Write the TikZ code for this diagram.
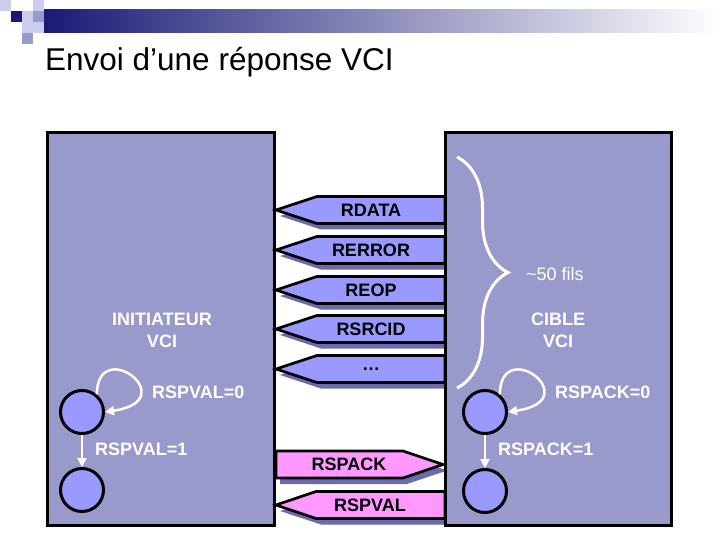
\documentclass[tikz,border=0pt]{standalone}
\usepackage{fontspec}
\setmainfont{Liberation Sans}
\usetikzlibrary{arrows.meta,decorations.pathreplacing,positioning}
\definecolor{boxgray}{HTML}{9999CC}
\definecolor{sigblue}{HTML}{9999FF}
\definecolor{sigpink}{HTML}{FF99FF}
\definecolor{sigshade}{HTML}{6A6AAC}
\definecolor{navy}{HTML}{1A1A76}
\definecolor{lightlav}{HTML}{CCCCEE}
\definecolor{midlav}{HTML}{9999CC}

\begin{document}
\begin{tikzpicture}[
    x=1pt, y=-1pt,
    unit/.style={draw=black, line width=3pt, fill=boxgray},
    sigbox/.style={draw=black, line width=2.7pt, fill=sigblue},
    sigshadow/.style={fill=sigshade, shift={(4,6)}},
    siglabel/.style={font=\fontsize{18}{21}\selectfont\bfseries, inner sep=0},
    state/.style={circle, draw=black, line width=3pt, fill=sigblue, minimum size=43pt, inner sep=0},
    trans/.style={white, line width=2.5pt, -{Triangle[length=9pt,width=9pt]}},
    whitelabel/.style={white, font=\fontsize{18}{22}\selectfont\bfseries, inner sep=0, align=center}
]
    \useasboundingbox (0,0) rectangle (720,540);

    % Header bar and squares
    \shade[left color=navy, right color=white] (43,10) rectangle (720,33);
    \fill[lightlav] (0,0) rectangle (11,11);
    \fill[navy] (11,11) rectangle (22,22);
    \fill[lightlav] (22,11) rectangle (33,22);
    \fill[lightlav] (33,0) rectangle (44,11);
    \fill[midlav] (33,11) rectangle (44,22);
    \fill[lightlav] (22,22) rectangle (44,33);
    \fill[midlav] (22,33) rectangle (33,44);

    % Title
    \node[anchor=base west, inner sep=0, font=\fontsize{31.5}{36}\selectfont] (title) at (45,71) {Envoi d’une réponse VCI};

    % Shadows of the wires
    \foreach \yy in {210,250,290,329,369,505} {
        \fill[sigshadow] (445,\yy-13.5) -- (317,\yy-13.5) -- (276,\yy) -- (317,\yy+13.5) -- (445,\yy+13.5) -- cycle;
    }
    \fill[sigshadow] (276,451) -- (403,451) -- (443,464.5) -- (403,478) -- (276,478) -- cycle;

    % Initiator and target
    \draw[unit] (47,133) rectangle (274,525);
    \draw[unit] (445,133) rectangle (671,525);

    % Response wires (target to initiator)
    \foreach \lab/\yy/\nm in {RDATA/210/rdata, RERROR/250/rerror, REOP/290/reop, RSRCID/329/rsrcid, {\dots}/369/more} {
        \draw[sigbox] (445,\yy-13.5) -- (317,\yy-13.5) -- (276,\yy) -- (317,\yy+13.5) -- (445,\yy+13.5) -- cycle;
        \node[siglabel] (\nm) at (371,\yy) {\lab};
    }

    % Handshake wires
    \draw[sigbox, fill=sigpink] (276,451) -- (403,451) -- (443,464.5) -- (403,478) -- (276,478) -- cycle;
    \node[siglabel] (rspack) at (349,464.5) {RSPACK};
    \draw[sigbox, fill=sigpink] (445,491.5) -- (316,491.5) -- (276,505) -- (316,518.5) -- (445,518.5) -- cycle;
    \node[siglabel] (rspval) at (370,505) {RSPVAL};

    % Brace over the wires
    \draw[white, line width=3pt, decorate, decoration={brace, amplitude=51pt}] (457,157) -- (457,388);
    \node[anchor=west, inner sep=0, white, font=\fontsize{18}{21}\selectfont] (fils) at (526,274) {\textasciitilde50 fils};

    % Unit names
    \node[whitelabel] (ininame) at (162,330) {INITIATEUR\\VCI};
    \node[whitelabel] (tgtname) at (558,330) {CIBLE\\VCI};

    % Initiator FSM
    \node[state] (ini0) at (82,412) {};
    \node[state] (ini1) at (82,490) {};
    \draw[trans] (ini0.50) .. controls +(1,-60) and +(80,-12) .. (ini0.east);
    \draw[trans] (ini0) -- (ini1);
    \node[whitelabel, anchor=west] (rspval0) at (152,392) {RSPVAL=0};
    \node[whitelabel, anchor=west] (rspval1) at (95,449) {RSPVAL=1};

    % Target FSM
    \node[state] (tgt0) at (485,412) {};
    \node[state] (tgt1) at (485,491) {};
    \draw[trans] (tgt0.50) .. controls +(1,-60) and +(80,-12) .. (tgt0.east);
    \draw[trans] (tgt0) -- (tgt1);
    \node[whitelabel, anchor=west] (rspack0) at (555,392) {RSPACK=0};
    \node[whitelabel, anchor=west] (rspack1) at (498,449) {RSPACK=1};
\end{tikzpicture}
\end{document}
